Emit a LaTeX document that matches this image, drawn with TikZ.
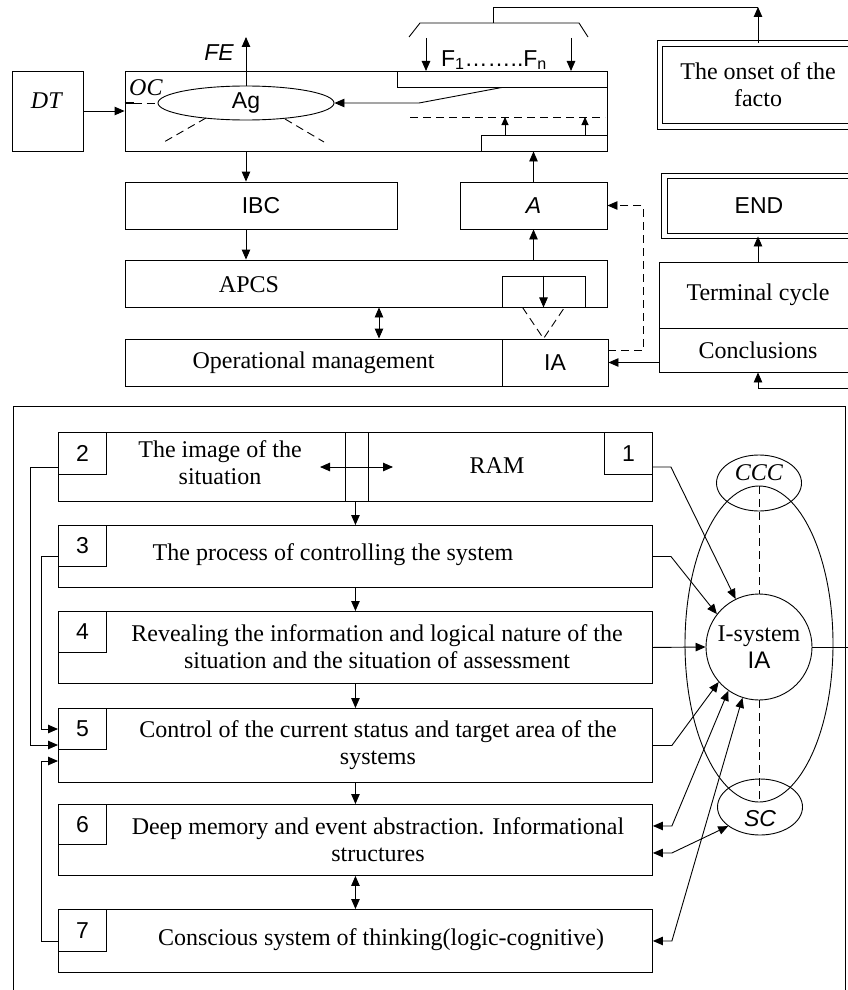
\documentclass[tikz,border=0pt]{standalone}
\usepackage{fontspec}
\setmainfont{Liberation Serif}
\setsansfont{Liberation Sans}
\usetikzlibrary{arrows.meta,shapes.geometric,calc}

\begin{document}
\begin{tikzpicture}[x=1pt,y=1pt,yscale=-1,xscale=1,line width=0.9pt,
  font=\fontsize{24}{27}\selectfont,
  >={Triangle[length=10pt,width=8.5pt]},
  every node/.style={align=center},
  box/.style={draw,rectangle,inner sep=0pt},
  numbox/.style={draw,rectangle,inner sep=0pt,anchor=north west,minimum width=48pt,minimum height=42pt,font=\fontsize{23}{27}\sffamily},
  dbox/.style={draw,double,double distance=4.5pt,inner sep=0pt},
  oval/.style={draw,ellipse,inner sep=0pt},
  sf/.style={font=\fontsize{23}{27}\sffamily},
  sfit/.style={font=\fontsize{23}{27}\sffamily\itshape},
  dsh/.style={dash pattern=on 8pt off 5pt}]
\useasboundingbox (0,0) rectangle (848,990);

%Shape: Rectangle
\node[box,minimum width=71pt,minimum height=80pt] (dt) at (47.5,111) {};
% Text Node
\node (dtl) at (47,101) {\textit{DT}};
%Shape: Rectangle
\node[box,minimum width=482pt,minimum height=80pt] (oc) at (366,111) {};
% Text Node
\node (ocl) at (146,88) {\textit{OC}};
%Shape: Ellipse
\node[oval,sf,minimum width=176pt,minimum height=34pt] (ag) at (246,103) {Ag};
%Shape: Rectangle
\node[box,minimum width=210pt,minimum height=16pt] (fbar) at (502,79) {};
\node[box,minimum width=126pt,minimum height=16pt] (abar) at (544,143) {};

\draw[line width=1.6pt] (oc.west |- ag) -- ++(9,0);
\draw[dsh] ($(oc.west |- ag)+(9,0)$) -- (ag.west);
\draw[dsh] (206,118) -- (164,142);
\draw[dsh] (285,119) -- (324,142);
\draw[dsh] (410,117) -- (605,117);
\draw[-{Triangle[length=8pt,width=7pt]}] (505,135) -- (505,117);
\draw[-{Triangle[length=8pt,width=7pt]}] (585,135) -- (585,117);
\draw[->] (fbar.south) -- (419,103) -- (ag.east);

\coordinate (fe) at (246,37);
\draw[->] (ag.north) -- (fe);
% Text Node
\node[sfit] (fel) at (219,53) {FE};

%Straight Lines
\draw (409,37) -- (420,23) -- (579,23) -- (588,37);
\draw[->] (426,38) -- (426,71);
\draw[->] (571,38) -- (571,71);
% Text Node
\node[sf] (flab) at (494,60) {F\textsubscript{1}……..F\textsubscript{n}};

%Shape: Double Rectangle
\node[dbox,minimum width=196pt,minimum height=83pt] (onset) at (758,85) {The onset of the\\facto};
\coordinate (tc) at (758,7);
\draw (493,23) |- (tc);
\draw[->] (onset.north) -- (tc);

%Shape: Rectangle
\node[box,sf,minimum width=272pt,minimum height=47pt] (ibc) at (261,205.5) {IBC};
\node[box,sfit,minimum width=147pt,minimum height=47pt] (a) at (533.5,205.5) {A};
\node[box,minimum width=482pt,minimum height=47pt] (apcs) at (366,283.5) {};
\node (apcsl) at (249,285) {APCS};
\node[box,minimum width=83pt,minimum height=31pt] (sbox) at (543.5,291.5) {};
\node[box,minimum width=377pt,minimum height=47pt] (opm) at (313.5,362.5) {Operational management};
\node[box,sf,minimum width=106pt,minimum height=47pt] (ia) at (555,362.5) {IA};
\node[dbox,sf,minimum width=189pt,minimum height=60pt] (end) at (759,206) {END};
\node[box,minimum width=198pt,minimum height=66pt] (term) at (758,295) {Terminal cycle};
\node[box,minimum width=198pt,minimum height=44pt] (concl) at (758,350) {Conclusions};

\draw[->] (dt.east) -- (dt.east -| oc.west);
\draw[->] (ag.south |- oc.south) -- (ag.south |- ibc.north);
\draw[->] (ag.south |- ibc.south) -- (ag.south |- apcs.north);
\draw[->] (a.south |- apcs.north) -- (a.south);
\draw[->] (a.north) -- (a.north |- oc.south);
\draw[->] (sbox.north) -- (sbox.south);
\draw[dsh] ($(sbox.south)+(-21,0)$) -- (sbox.south |- ia.north) -- ($(sbox.south)+(21,0)$);
\draw[<->] ($(apcs.south)+(13,0)$) -- ($(opm.north)+(65.5,0)$);
\draw[dsh,->] ($(ia.east)+(0,-12)$) -| ($(a.east)+(36,0)$) -- (a.east);
\draw[->] (concl.west |- ia.east) -- (ia.east);
\draw[->] (term.north) -- (term.north |- end.south);
\coordinate (cin) at (852,388);
\draw[->] (cin) -| (concl.south);

%Shape: Frame
\draw (13,995) |- (845,406) -- (845,995);

%Shape: Rectangle
\node[box,anchor=north west,minimum width=594pt,minimum height=69pt] (ram) at (58,432) {};
\node[numbox] (n2) at (58,432) {2};
\node[numbox] (n1) at (604,432) {1};
\draw (345,432) -- (345,501);
\draw (368,432) -- (368,501);
\draw[<->] (320,467) -- (393,467);
% Text Node
\node (imgl) at (220,463) {The image of the\\situation};
\node (raml) at (497,466) {RAM};

\node[box,anchor=north west,minimum width=594pt,minimum height=62pt] (b3) at (58,525) {};
\node[numbox,minimum height=41pt] (n3) at (58,525) {3};
\node (b3l) at (333,555) {The process of controlling the system};

\node[box,anchor=north west,minimum width=594pt,minimum height=72pt] (b4) at (58,611) {};
\node[numbox,minimum height=41pt] (n4) at (58,611) {4};
\node (b4l) at (377,647) {Revealing the information and logical nature of the\\situation and the situation of assessment};

\node[box,anchor=north west,minimum width=594pt,minimum height=74pt] (b5) at (58,708) {};
\node[numbox,minimum height=41pt] (n5) at (58,708) {5};
\node (b5l) at (378,745) {Control of the current status and target area of the\\systems};

\node[box,anchor=north west,minimum width=594pt,minimum height=71pt] (b6) at (58,804) {};
\node[numbox,minimum height=40pt] (n6) at (58,804) {6};
\node (b6l) at (378,840) {Deep memory and event abstraction. Informational\\structures};

\node[box,anchor=north west,minimum width=594pt,minimum height=63pt] (b7) at (58,909) {};
\node[numbox] (n7) at (58,909) {7};
\node (b7l) at (381,940) {Conscious system of thinking(logic-cognitive)};

\draw[->] (ram.south) -- (b3.north);
\draw[->] (b3.south) -- (b4.north);
\draw[->] (b4.south) -- (b5.north);
\draw[->] (b5.south) -- (b6.north);
\draw[<->] (b6.south) -- (b7.north);

\coordinate (la) at (30,745);
\coordinate (lb) at (41,729);
\coordinate (lc) at (41,761);
\draw[->] (n2.west |- ram) -| (la) -- (la -| b5.west);
\draw[->] (n3.west |- b3) -| (lb) -- (lb -| b5.west);
\draw[->] (n7.west |- b7) -| (lc) -- (lc -| b5.west);

%Shape: Ellipse
\draw (759,644) ellipse [x radius=74, y radius=158];
\node[oval,minimum width=85pt,minimum height=56pt] (ccc) at (759,483) {};
\node (cccl) at (759,473) {\textit{CCC}};
\node[oval,minimum width=85pt,minimum height=56pt] (sc) at (760,807) {};
\node[sfit] (scl) at (760,819) {SC};
%Shape: Circle
\node[draw,circle,minimum size=106pt,inner sep=0pt] (isys) at (759,647) {I-system\\{\sffamily IA}};
\coordinate (etop) at (759,486);
\coordinate (ebot) at (759,802);
\draw[dsh] (etop) -- (isys.north);
\draw[dsh] (isys.south) -- (ebot);

\draw[->] (ram.east) -- ++(18,0) -- (isys.116);
\draw[->] (b3.east) -- ++(18,0) -- (isys.142);
\draw[->] (b4.east) -- (isys.west);
\draw[->] (b5.east) -- ++(19,0) -- (isys.221);
\draw[<->] ($(b6.east)+(0,-14)$) -- ++(19,0) -- (isys.235);
\draw[<->] ($(b6.east)+(0,13)$) -- ++(19,0) -- (sc.211);
\draw[<->] (b7.east) -- ++(19,0) -- (isys.252);
\coordinate (iout) at (852,647);
\draw (isys.east) -- (iout);

\end{tikzpicture}
\end{document}
